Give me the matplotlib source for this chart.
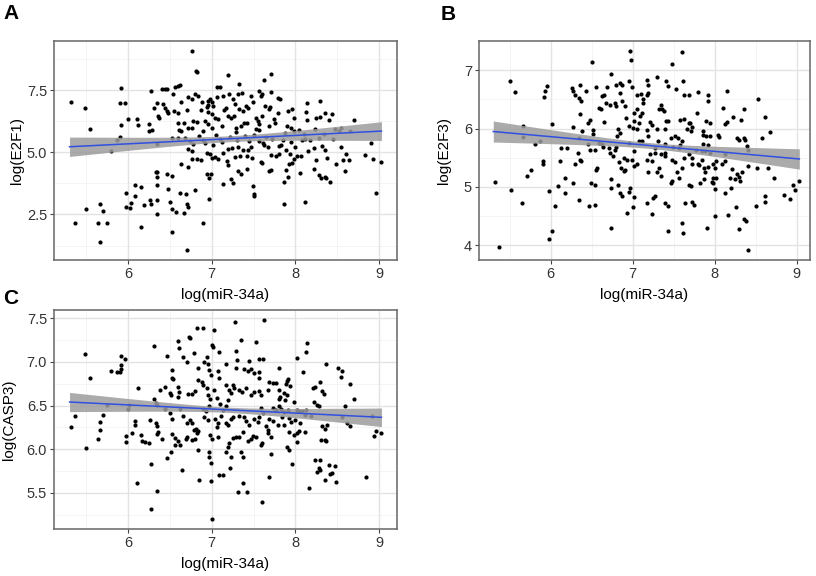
import numpy as np
import matplotlib
matplotlib.use("Agg")
import matplotlib.pyplot as plt

plt.rcParams['font.family'] = ['Liberation Sans', 'DejaVu Sans']

# points: (log(miR-34a), log(target))
e2f1_points = [
    (6.76, 9.07), (6.81, 8.26), (6.82, 8.22), (5.32, 7.02), (5.49, 6.79), (5.55, 5.95), (5.91, 7.59),
    (5.90, 6.96), (5.96, 6.96), (6.00, 6.35), (6.11, 6.35), (6.12, 6.08), (5.92, 6.09), (5.90, 5.63),
    (5.87, 5.48), (5.80, 5.05), (6.25, 6.12), (6.25, 5.85), (6.29, 5.88), (6.27, 7.46), (6.40, 7.53),
    (6.44, 7.53), (6.47, 7.55), (6.56, 7.63), (6.60, 7.66), (6.62, 7.70), (6.54, 7.33), (6.35, 6.96),
    (6.31, 6.79), (6.42, 6.92), (6.44, 6.79), (6.46, 6.66), (6.48, 6.59), (6.36, 6.46), (6.37, 6.36),
    (6.55, 6.66), (6.60, 6.59), (6.63, 7.00), (6.60, 6.19), (6.67, 6.19), (6.61, 5.88), (6.63, 5.85),
    (6.71, 6.70), (6.72, 7.22), (6.76, 7.12), (6.80, 7.33), (6.84, 7.26), (6.72, 5.96), (6.76, 5.96),
    (6.78, 6.25), (6.82, 6.21), (6.53, 5.59), (6.60, 5.59), (6.35, 5.32), (6.68, 5.59), (6.74, 5.45),
    (6.78, 5.32), (6.72, 5.12), (6.76, 5.05), (6.77, 4.74), (6.83, 4.71), (6.87, 4.69), (6.63, 4.54),
    (6.72, 4.41), (6.89, 5.85), (6.85, 5.65), (6.90, 5.48), (6.92, 5.38), (6.88, 7.00), (6.87, 6.71),
    (6.94, 6.80), (6.96, 6.90), (6.98, 7.13), (7.00, 7.00), (7.02, 6.86), (6.96, 6.62), (7.00, 6.52),
    (7.04, 6.39), (7.08, 6.32), (7.06, 7.62), (7.10, 7.62), (7.13, 7.26), (6.92, 6.25), (6.96, 6.12),
    (7.00, 5.99), (6.94, 4.98), (6.98, 4.92), (7.00, 4.78), (7.04, 4.81), (7.08, 4.71), (6.94, 4.11),
    (6.97, 3.98), (6.99, 4.14), (7.13, 3.71), (6.97, 3.11), (6.80, 3.47), (6.89, 2.17), (6.71, 1.07),
    (6.53, 1.78), (6.33, 4.22), (6.35, 4.22), (6.34, 4.01), (6.34, 3.67), (6.46, 4.14), (6.53, 4.05),
    (6.48, 3.51), (6.08, 3.68), (6.16, 3.62), (5.97, 3.38), (6.08, 3.23), (6.04, 2.95), (5.98, 2.81),
    (6.02, 2.75), (6.19, 2.88), (6.26, 3.07), (6.27, 2.91), (6.35, 3.08), (6.35, 2.53), (6.50, 3.00),
    (6.52, 2.71), (6.57, 2.61), (6.62, 3.38), (6.69, 3.31), (6.71, 2.91), (6.72, 2.81), (6.67, 2.55),
    (6.16, 2.01), (5.50, 2.71), (5.66, 2.91), (5.70, 2.64), (5.36, 2.15), (5.64, 2.15), (5.75, 2.17),
    (5.66, 1.41), (7.05, 5.70), (7.10, 5.55), (7.12, 6.05), (7.15, 6.70), (7.06, 7.20), (6.95, 7.05),
    (7.02, 5.30), (7.12, 5.40), (7.14, 4.98),
    (7.19, 8.09), (7.33, 7.73), (7.71, 8.13), (7.63, 7.89), (7.21, 7.33), (7.31, 7.35), (7.36, 7.37),
    (7.17, 6.79), (7.25, 7.13), (7.28, 6.92), (7.33, 6.72), (7.37, 6.66), (7.41, 6.86), (7.43, 6.79),
    (7.47, 7.26), (7.49, 7.00), (7.57, 7.46), (7.59, 7.26), (7.60, 7.33), (7.64, 6.86), (7.68, 6.72),
    (7.70, 6.82), (7.71, 7.43), (7.79, 7.19), (7.82, 7.13), (7.79, 6.59), (7.91, 6.66), (7.96, 6.72),
    (7.98, 6.39), (8.14, 6.96), (8.13, 6.63), (8.14, 6.28), (8.29, 7.06), (8.25, 6.39), (8.30, 6.42),
    (8.35, 6.59), (8.40, 6.28), (8.44, 6.52), (8.70, 6.31), (7.19, 6.46), (7.23, 6.36), (7.27, 6.46),
    (7.29, 5.96), (7.29, 5.83), (7.35, 6.05), (7.39, 6.19), (7.42, 6.19), (7.53, 6.36), (7.55, 6.25),
    (7.57, 6.12), (7.60, 6.46), (7.53, 5.92), (7.57, 5.88), (7.68, 6.05), (7.74, 6.32), (7.76, 6.19),
    (7.90, 6.05), (7.95, 5.99), (7.99, 5.85), (8.04, 5.88), (7.88, 5.79), (8.24, 5.92), (8.34, 5.75),
    (8.28, 5.56), (8.48, 5.92), (8.52, 5.85), (8.55, 5.96), (8.65, 5.85), (8.91, 5.38), (8.83, 4.89),
    (8.93, 4.73), (9.02, 4.62), (8.97, 3.38), (8.49, 4.54), (8.57, 4.69), (8.61, 4.91), (8.64, 4.69),
    (8.60, 4.25), (8.22, 4.31), (8.28, 4.07), (8.31, 3.95), (8.35, 4.02), (8.37, 3.98), (8.41, 3.81),
    (8.38, 4.78), (8.36, 5.09), (8.32, 5.25), (8.22, 5.18), (8.12, 3.00), (7.87, 2.93), (7.87, 3.82),
    (7.91, 4.01), (7.89, 4.27), (7.93, 4.51), (7.96, 4.58), (7.98, 4.72), (8.02, 4.85), (8.07, 4.85),
    (8.05, 4.15), (7.81, 5.25), (7.83, 5.29), (7.89, 5.08), (7.94, 4.92), (7.69, 4.25), (7.71, 4.27),
    (7.59, 4.62), (7.60, 4.58), (7.49, 3.64), (7.50, 3.34), (7.51, 3.26), (7.23, 3.91), (7.26, 3.78),
    (7.32, 4.25), (7.35, 4.14), (7.42, 4.31), (7.18, 4.65), (7.20, 4.49), (7.20, 5.12), (7.24, 5.18),
    (7.32, 5.21), (7.38, 5.08), (7.44, 5.08), (7.47, 5.21), (7.28, 4.81), (7.34, 4.84), (7.42, 4.85),
    (7.48, 4.76), (7.57, 5.45), (7.61, 5.38), (7.63, 5.29), (7.67, 5.21), (7.71, 4.89), (7.77, 4.85),
    (7.80, 4.94), (8.00, 5.21), (8.08, 5.48), (8.12, 5.52), (8.18, 5.48), (7.22, 5.60), (7.30, 5.50),
    (7.40, 5.65), (7.45, 5.45), (7.50, 5.70), (7.65, 5.62), (7.72, 5.55), (7.85, 5.50), (7.95, 5.40),
    (8.10, 5.75), (8.45, 5.55), (8.55, 5.20), (8.15, 5.05), (8.25, 4.70),
]

e2f3_points = [
    (5.32, 5.09), (5.37, 3.97), (5.50, 6.81), (5.56, 6.63), (5.52, 4.95), (5.65, 4.72), (5.66, 6.04),
    (5.66, 5.85), (5.81, 5.73), (5.87, 5.79), (5.76, 5.29), (5.71, 5.19), (5.90, 5.44), (5.91, 5.40),
    (5.92, 6.54), (5.93, 6.64), (5.96, 6.73), (6.01, 6.08), (5.98, 4.93), (6.05, 4.68), (6.02, 4.25),
    (5.98, 4.11), (6.11, 5.44), (6.09, 5.01), (6.17, 5.15), (6.17, 4.90), (6.13, 5.66), (6.20, 5.66),
    (6.27, 5.07), (6.26, 6.70), (6.27, 6.64), (6.30, 6.58), (6.36, 6.74), (6.43, 6.64), (6.34, 6.53),
    (6.37, 6.48), (6.36, 6.25), (6.27, 6.02), (6.38, 5.96), (6.35, 5.84), (6.33, 5.59), (6.30, 5.40),
    (6.36, 5.47), (6.37, 5.44), (6.35, 4.77), (6.47, 4.68), (6.54, 4.70), (6.49, 5.07), (6.54, 5.03),
    (6.50, 7.14), (6.55, 6.71), (6.48, 6.15), (6.46, 6.09), (6.52, 5.97), (6.51, 5.90), (6.45, 5.73),
    (6.48, 5.64), (6.54, 5.64), (6.56, 5.33), (6.55, 5.29), (6.59, 5.76), (6.62, 5.73), (6.64, 5.68),
    (6.59, 6.36), (6.61, 6.33), (6.63, 6.56), (6.65, 6.58), (6.68, 6.71), (6.67, 6.44), (6.73, 6.94),
    (6.72, 6.41), (6.65, 6.12), (6.73, 4.29), (6.73, 5.13), (6.74, 4.99), (6.71, 5.67), (6.72, 5.59),
    (6.78, 5.64), (6.80, 5.68), (6.76, 5.53), (6.82, 6.00), (6.84, 5.93), (6.81, 5.87), (6.80, 6.75),
    (6.84, 6.78), (6.87, 6.74), (6.78, 6.44), (6.80, 6.38), (6.87, 6.47), (6.91, 6.38), (6.85, 6.61),
    (6.96, 6.82), (6.99, 6.71), (6.97, 7.33), (6.98, 7.18), (6.83, 5.42), (6.86, 5.33), (6.89, 5.27),
    (6.91, 5.29), (6.82, 5.03), (6.84, 4.89), (6.87, 4.85), (6.93, 4.56), (7.00, 4.65), (7.01, 4.83),
    (6.95, 4.92), (6.97, 4.99), (6.89, 5.50), (6.93, 5.47), (6.99, 5.47), (7.02, 5.36), (7.05, 5.39),
    (6.92, 6.18), (6.96, 6.04), (7.00, 6.01), (7.02, 6.13), (7.05, 6.00), (7.07, 6.10), (7.09, 6.22),
    (7.11, 6.26), (7.02, 6.27), (7.05, 6.33), (7.12, 6.44), (7.13, 6.50), (6.95, 5.76), (7.01, 5.62),
    (7.07, 5.79), (7.11, 5.79), (7.05, 6.58), (7.10, 6.60),
    (7.60, 7.32), (7.48, 7.11), (7.17, 6.84), (7.18, 6.75), (7.19, 6.61), (7.17, 6.58), (7.30, 6.88),
    (7.40, 6.82), (7.43, 6.73), (7.53, 6.67), (7.61, 6.81), (7.63, 6.58), (7.69, 6.57), (7.80, 6.62),
    (7.92, 6.57), (7.92, 6.48), (8.15, 6.65), (8.53, 6.50), (8.61, 6.20), (8.67, 5.94), (8.57, 5.84),
    (8.51, 5.33), (8.35, 6.33), (8.32, 6.15), (8.22, 6.20), (8.15, 6.12), (8.13, 6.08), (8.10, 6.36),
    (8.04, 5.89), (8.05, 5.86), (7.89, 6.13), (7.94, 6.09), (7.85, 5.96), (7.86, 5.89), (7.89, 5.88),
    (7.94, 5.87), (7.92, 5.72), (7.86, 5.73), (7.78, 6.27), (7.63, 6.17), (7.68, 6.09), (7.70, 6.09),
    (7.72, 6.03), (7.66, 5.99), (7.71, 5.96), (7.58, 6.15), (7.41, 6.13), (7.43, 6.13), (7.39, 6.00),
    (7.32, 6.33), (7.36, 6.33), (7.38, 6.30), (7.34, 6.40), (7.21, 6.12), (7.23, 6.07), (7.17, 5.97),
    (7.19, 5.87), (7.29, 5.99), (7.31, 5.79), (7.47, 5.84), (7.51, 5.88), (7.55, 5.84), (7.60, 5.79),
    (7.58, 5.72), (7.39, 5.73), (7.49, 5.68), (7.56, 5.67), (7.27, 5.67), (7.27, 5.59), (7.34, 5.57),
    (7.39, 5.59), (7.39, 5.53), (7.21, 5.56), (7.23, 5.44), (7.17, 5.47), (7.32, 5.33), (7.29, 5.25),
    (7.34, 5.19), (7.19, 5.25), (7.48, 5.47), (7.51, 5.42), (7.54, 5.25), (7.56, 5.16), (7.48, 5.10),
    (7.46, 5.07), (7.60, 5.33), (7.62, 5.50), (7.68, 5.56), (7.72, 5.50), (7.72, 5.39), (7.79, 5.39),
    (7.81, 5.38), (7.77, 5.64), (7.84, 5.62), (7.88, 5.62), (7.94, 5.59), (7.84, 5.47), (7.87, 5.33),
    (7.92, 5.34), (7.88, 5.25), (7.98, 5.40), (8.00, 5.33), (8.02, 5.44), (8.01, 5.16), (7.98, 5.07),
    (8.00, 4.96), (8.12, 5.56), (8.13, 5.44), (8.09, 5.39), (8.21, 5.30), (8.19, 5.16), (8.13, 4.89),
    (8.27, 5.22), (8.25, 5.13), (8.27, 5.84), (8.30, 5.80), (8.35, 5.84), (8.37, 5.80), (8.39, 5.70),
    (8.41, 5.64), (8.29, 5.17), (8.31, 5.10), (8.33, 5.25), (8.41, 5.36), (8.65, 5.33), (8.72, 5.16),
    (8.61, 4.85), (8.61, 4.75), (8.50, 4.68), (8.84, 4.86), (8.92, 4.80), (8.95, 5.03), (8.98, 4.95),
    (9.03, 5.10), (8.26, 4.66), (8.16, 4.52), (8.00, 4.51), (8.20, 4.99), (8.36, 4.45), (8.38, 4.41),
    (8.30, 4.28), (8.40, 3.92), (7.91, 4.29), (7.75, 4.70), (7.72, 4.75), (7.64, 4.72), (7.60, 4.39),
    (7.61, 4.22), (7.43, 4.25), (7.39, 4.72), (7.43, 4.68), (7.23, 4.54), (7.17, 4.72), (7.27, 4.85),
    (7.25, 4.82), (7.68, 5.03), (7.71, 5.02), (7.82, 5.06), (7.87, 5.14), (7.96, 5.09), (7.98, 5.16),
]

casp3_points = [
    (5.32, 6.25), (5.37, 6.38), (5.49, 7.09), (5.55, 6.82), (5.50, 6.01), (5.75, 6.51), (5.70, 6.39),
    (5.66, 6.31), (5.66, 6.22), (5.64, 6.12), (5.80, 6.89), (5.87, 6.88), (5.90, 6.88), (5.91, 6.92),
    (5.92, 6.96), (5.92, 7.07), (5.96, 7.03), (6.01, 6.51), (6.00, 6.46), (6.12, 6.70), (5.98, 6.15),
    (5.97, 6.08), (6.05, 6.19), (6.08, 6.32), (6.08, 6.28), (6.11, 5.61), (6.16, 6.16), (6.17, 6.09),
    (6.20, 6.08), (6.25, 6.07), (6.27, 5.83), (6.31, 7.18), (6.31, 6.58), (6.33, 6.53), (6.35, 6.51),
    (6.26, 6.33), (6.33, 6.30), (6.34, 6.26), (6.36, 6.20), (6.34, 6.17), (6.40, 6.12), (6.35, 5.52),
    (6.27, 5.32), (6.38, 6.68), (6.44, 6.71), (6.44, 6.46), (6.50, 6.41), (6.52, 6.35), (6.46, 5.90),
    (6.51, 5.97), (6.56, 6.05), (6.47, 7.07), (6.53, 6.91), (6.53, 6.82), (6.54, 6.80), (6.50, 6.64),
    (6.51, 6.62), (6.60, 6.71), (6.61, 6.66), (6.60, 6.60), (6.60, 7.24), (6.61, 7.16), (6.64, 5.76),
    (6.53, 6.17), (6.56, 6.13), (6.60, 6.09), (6.62, 6.05), (6.62, 6.46), (6.66, 6.38), (6.66, 7.06),
    (6.71, 7.00), (6.73, 7.28), (6.74, 7.27), (6.72, 6.63), (6.76, 6.63), (6.80, 6.67), (6.70, 6.30),
    (6.74, 6.33), (6.76, 6.30), (6.69, 6.12), (6.71, 6.14), (6.76, 6.10), (6.80, 6.12), (6.79, 7.10),
    (6.84, 6.93), (6.82, 7.39), (6.90, 7.39), (6.84, 6.79), (6.88, 6.77), (6.90, 6.74), (6.79, 6.22),
    (6.81, 6.23), (6.84, 6.21), (6.82, 6.18), (6.84, 5.99), (6.85, 5.65), (6.94, 7.06), (6.91, 7.00),
    (6.95, 6.98), (6.97, 6.91), (6.99, 6.85), (6.94, 6.70), (6.95, 6.62), (6.98, 6.58), (6.90, 6.46),
    (6.93, 6.44), (6.97, 6.49), (6.91, 6.37), (6.95, 6.33), (6.98, 6.16), (7.00, 6.12), (6.97, 5.97),
    (6.97, 5.91), (6.99, 5.84), (6.99, 5.63), (7.00, 5.20), (7.00, 7.19), (7.02, 7.17), (7.03, 7.36),
    (7.09, 7.11), (7.08, 6.90), (7.09, 6.81), (7.03, 6.68), (7.06, 6.59), (7.10, 6.52), (7.13, 6.45),
    (7.04, 6.35), (7.08, 6.30), (7.11, 6.38), (7.06, 6.25), (7.08, 6.14), (7.09, 5.70), (7.14, 5.71),
    (7.28, 7.46), (7.62, 7.48), (7.35, 7.25), (7.53, 7.23), (7.29, 7.12), (7.30, 7.02), (7.45, 7.01),
    (7.57, 7.03), (7.61, 7.03), (7.17, 6.98), (7.29, 6.93), (7.39, 6.92), (7.43, 6.90), (7.47, 6.92),
    (7.51, 6.87), (7.56, 6.88), (7.57, 6.82), (7.81, 6.93), (7.91, 6.80), (8.14, 7.22), (8.13, 7.11),
    (8.02, 7.04), (8.09, 6.88), (8.37, 6.97), (8.51, 6.93), (8.56, 6.90), (8.55, 6.83), (8.65, 6.75),
    (8.70, 6.57), (7.17, 6.74), (7.21, 6.68), (7.25, 6.74), (7.27, 6.70), (7.33, 6.68), (7.36, 6.65),
    (7.23, 6.64), (7.19, 6.56), (7.17, 6.49), (7.41, 6.70), (7.47, 6.62), (7.51, 6.66), (7.56, 6.67),
    (7.59, 6.62), (7.67, 6.68), (7.69, 6.77), (7.73, 6.76), (7.77, 6.76), (7.81, 6.68), (7.82, 6.60),
    (7.87, 6.64), (7.88, 6.56), (7.90, 6.62), (7.94, 6.72), (7.80, 6.58), (8.21, 6.70), (8.24, 6.71),
    (8.29, 6.77), (8.32, 6.67), (8.34, 6.63), (8.22, 6.54), (8.26, 6.51), (8.28, 6.50), (8.60, 6.49),
    (8.92, 6.38), (8.96, 6.21), (8.94, 6.15), (9.02, 6.19), (8.56, 6.37), (8.62, 6.30), (8.65, 6.27),
    (8.32, 6.26), (8.38, 6.28), (8.36, 6.23), (8.35, 6.11), (8.37, 6.09), (8.31, 6.10), (8.24, 5.88),
    (8.29, 5.88), (8.28, 5.78), (8.30, 5.76), (8.26, 5.74), (8.40, 5.82), (8.42, 5.72), (8.44, 5.73),
    (8.48, 5.81), (8.35, 5.65), (8.49, 5.62), (8.16, 5.56), (8.84, 5.68), (7.98, 6.54), (8.02, 6.45),
    (8.04, 6.44), (8.08, 6.44), (8.13, 6.45), (7.91, 6.45), (7.87, 6.43), (7.92, 6.36), (7.95, 6.31),
    (8.00, 6.33), (8.06, 6.30), (8.12, 6.39), (8.19, 6.38), (7.93, 6.20), (7.98, 6.16), (8.02, 6.18),
    (8.04, 6.21), (8.11, 6.20), (8.02, 6.08), (7.96, 5.83), (7.90, 6.03), (7.92, 5.99), (7.84, 6.37),
    (7.87, 6.28), (7.79, 6.28), (7.73, 6.32), (7.69, 6.35), (7.65, 6.26), (7.67, 6.22), (7.71, 6.14),
    (7.67, 6.18), (7.71, 5.94), (7.69, 5.68), (7.59, 6.47), (7.61, 6.41), (7.57, 6.37), (7.55, 6.31),
    (7.51, 6.35), (7.60, 6.07), (7.59, 6.05), (7.53, 6.14), (7.49, 6.15), (7.47, 6.12), (7.43, 6.09),
    (7.37, 6.20), (7.33, 6.14), (7.29, 6.14), (7.25, 6.13), (7.21, 6.07), (7.19, 6.03), (7.23, 5.91),
    (7.17, 5.97), (7.35, 5.97), (7.37, 5.91), (7.22, 5.79), (7.37, 5.61), (7.32, 5.51), (7.42, 5.51),
    (7.60, 5.40), (7.25, 6.37), (7.33, 6.38), (7.39, 6.37), (7.41, 6.32), (7.45, 6.28), (7.17, 6.30),
    (7.20, 6.28), (7.23, 6.35), (7.73, 6.47), (7.77, 6.45), (7.81, 6.49), (7.83, 6.46), (7.89, 6.75),
    (7.90, 6.78),
]

# fitted line and 95% band
# (value at x=5.3, value at x=9.03, band half-width at centre, band half-width at left end)
e2f1_fit = (5.22, 5.85, 0.12, 0.39)
e2f3_fit = (5.95, 5.48, 0.05, 0.18)
casp3_fit = (6.54, 6.365, 0.03, 0.11)
fit_x = (5.3, 9.03)
fit_center = 7.2

panels = [
    dict(letter='A', pts=e2f1_points, fit=e2f1_fit, ylabel='log(E2F1)',
         box=(54, 41, 397, 260), xlim=(5.114, 9.216), ylim=(0.67, 9.47),
         yticks=[2.5, 5.0, 7.5], yminor=[1.25, 3.75, 6.25, 8.75], yfmt='{:.1f}', ylab_x=-0.088),
    dict(letter='B', pts=e2f3_points, fit=e2f3_fit, ylabel='log(E2F3)',
         box=(479, 41, 810, 260), xlim=(5.126, 9.16), ylim=(3.75, 7.50),
         yticks=[4, 5, 6, 7], yminor=[4.5, 5.5, 6.5], yfmt='{:.0f}', ylab_x=-0.085),
    dict(letter='C', pts=casp3_points, fit=casp3_fit, ylabel='log(CASP3)',
         box=(54, 310, 397, 529), xlim=(5.114, 9.216), ylim=(5.086, 7.594),
         yticks=[5.5, 6.0, 6.5, 7.0, 7.5], yminor=[5.25, 5.75, 6.25, 6.75, 7.25], yfmt='{:.1f}', ylab_x=-0.111),
]
letter_pos = {'A': (3, 4), 'B': (441, 5), 'C': (3, 289)}

W, H = 816, 576
fig = plt.figure(figsize=(W / 100, H / 100), dpi=100)

for p in panels:
    x0, y0, x1, y1 = p['box']
    ax = fig.add_axes([x0 / W, 1 - y1 / H, (x1 - x0) / W, (y1 - y0) / H])
    ax.set_xlim(p['xlim'])
    ax.set_ylim(p['ylim'])

    for v in [5.5, 6.5, 7.5, 8.5]:
        ax.axvline(v, color='#f2f2f2', lw=0.6, zorder=0)
    for v in p['yminor']:
        ax.axhline(v, color='#f2f2f2', lw=0.6, zorder=0)
    for v in [6, 7, 8, 9]:
        ax.axvline(v, color='#e3e3e3', lw=1.0, zorder=0)
    for v in p['yticks']:
        ax.axhline(v, color='#e3e3e3', lw=1.0, zorder=0)

    pts = np.array(p['pts'])
    ax.scatter(pts[:, 0], pts[:, 1], s=9, color='black', linewidths=0, zorder=3)

    y_left, y_right, h0, h_end = p['fit']
    xs = np.linspace(fit_x[0], fit_x[1], 80)
    slope = (y_right - y_left) / (fit_x[1] - fit_x[0])
    ys = y_left + slope * (xs - fit_x[0])
    k = np.sqrt(max(h_end ** 2 - h0 ** 2, 0)) / (fit_center - fit_x[0])
    half = np.sqrt(h0 ** 2 + (k * (xs - fit_center)) ** 2)
    ax.fill_between(xs, ys - half, ys + half, color='#9c9c9c', alpha=0.85, lw=0, zorder=4)
    ax.plot(xs, ys, color='#3050e0', lw=1.1, zorder=5)

    ax.set_xticks([6, 7, 8, 9])
    ax.set_xticklabels(['6', '7', '8', '9'])
    ax.set_yticks(p['yticks'])
    ax.set_yticklabels([p['yfmt'].format(v) for v in p['yticks']])
    ax.tick_params(axis='both', length=3, width=0.8, color='#444444', pad=2,
                   labelsize=10.5, labelcolor='#333333')
    for s in ax.spines.values():
        s.set_color('#666666')
        s.set_linewidth(1.1)

    ax.set_xlabel('log(miR-34a)', fontsize=11, labelpad=5)
    ax.set_ylabel(p['ylabel'], fontsize=11)
    ax.yaxis.set_label_coords(p['ylab_x'], 0.5)

    lx, ly = letter_pos[p['letter']]
    fig.text(lx / W, 1 - ly / H, p['letter'], fontsize=15, fontweight='bold', ha='left', va='top')

fig.savefig('out.png', dpi=100)
